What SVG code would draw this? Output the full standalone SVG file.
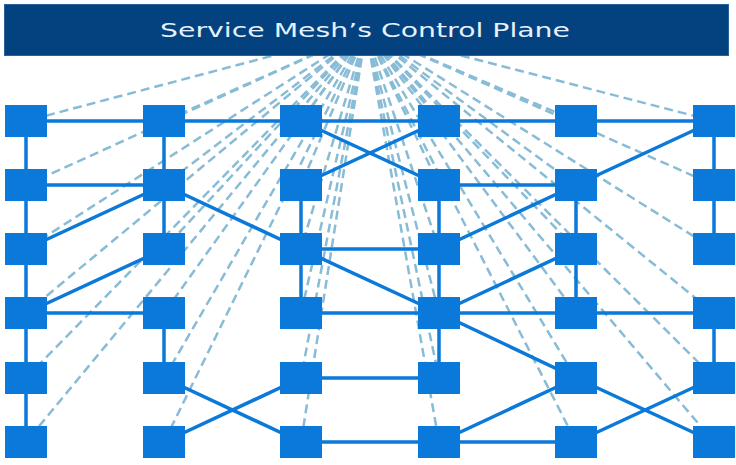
<svg xmlns="http://www.w3.org/2000/svg" width="736" height="465" viewBox="0 0 736 465">
<style>
.ctl{stroke:#88bcd6;stroke-width:2.5;stroke-dasharray:9 5;fill:none}
.dat{stroke:#0a79d9;stroke-width:3.5;fill:none}
.n{fill:#0a79d9}
.hdr{fill:#03427f;stroke:#2a639a;stroke-width:1}
.ttl{font-family:"DejaVu Sans","Open Sans",sans-serif;font-size:20px;fill:#e6f1fb;text-anchor:middle}
</style>
<rect width="736" height="465" fill="#ffffff"/>
<g id="connectors">
<g id="control-links">
<line class="ctl" x1="366" y1="31" x2="26" y2="121"/>
<line class="ctl" x1="366" y1="31" x2="26" y2="185"/>
<line class="ctl" x1="366" y1="31" x2="26" y2="249"/>
<line class="ctl" x1="366" y1="31" x2="26" y2="313"/>
<line class="ctl" x1="366" y1="31" x2="26" y2="378"/>
<line class="ctl" x1="366" y1="31" x2="26" y2="442"/>
<line class="ctl" x1="366" y1="31" x2="164" y2="121"/>
<line class="ctl" x1="366" y1="31" x2="164" y2="185"/>
<line class="ctl" x1="366" y1="31" x2="164" y2="249"/>
<line class="ctl" x1="366" y1="31" x2="164" y2="313"/>
<line class="ctl" x1="366" y1="31" x2="164" y2="378"/>
<line class="ctl" x1="366" y1="31" x2="164" y2="442"/>
<line class="ctl" x1="366" y1="31" x2="301" y2="121"/>
<line class="ctl" x1="366" y1="31" x2="301" y2="185"/>
<line class="ctl" x1="366" y1="31" x2="301" y2="249"/>
<line class="ctl" x1="366" y1="31" x2="301" y2="313"/>
<line class="ctl" x1="366" y1="31" x2="301" y2="378"/>
<line class="ctl" x1="366" y1="31" x2="301" y2="442"/>
<line class="ctl" x1="366" y1="31" x2="439" y2="121"/>
<line class="ctl" x1="366" y1="31" x2="439" y2="185"/>
<line class="ctl" x1="366" y1="31" x2="439" y2="249"/>
<line class="ctl" x1="366" y1="31" x2="439" y2="313"/>
<line class="ctl" x1="366" y1="31" x2="439" y2="378"/>
<line class="ctl" x1="366" y1="31" x2="439" y2="442"/>
<line class="ctl" x1="366" y1="31" x2="576" y2="121"/>
<line class="ctl" x1="366" y1="31" x2="576" y2="185"/>
<line class="ctl" x1="366" y1="31" x2="576" y2="249"/>
<line class="ctl" x1="366" y1="31" x2="576" y2="313"/>
<line class="ctl" x1="366" y1="31" x2="576" y2="378"/>
<line class="ctl" x1="366" y1="31" x2="576" y2="442"/>
<line class="ctl" x1="366" y1="31" x2="714" y2="121"/>
<line class="ctl" x1="366" y1="31" x2="714" y2="185"/>
<line class="ctl" x1="366" y1="31" x2="714" y2="249"/>
<line class="ctl" x1="366" y1="31" x2="714" y2="313"/>
<line class="ctl" x1="366" y1="31" x2="714" y2="378"/>
<line class="ctl" x1="366" y1="31" x2="714" y2="442"/>
</g>
<g id="data-links">
<line class="dat" x1="26" y1="121" x2="714" y2="121"/>
<line class="dat" x1="26" y1="121" x2="26" y2="442"/>
<line class="dat" x1="164" y1="121" x2="164" y2="249"/>
<line class="dat" x1="164" y1="313" x2="164" y2="378"/>
<line class="dat" x1="26" y1="185" x2="164" y2="185"/>
<line class="dat" x1="26" y1="249" x2="164" y2="185"/>
<line class="dat" x1="164" y1="185" x2="301" y2="249"/>
<line class="dat" x1="164" y1="249" x2="26" y2="313"/>
<line class="dat" x1="26" y1="313" x2="164" y2="313"/>
<line class="dat" x1="164" y1="378" x2="301" y2="442"/>
<line class="dat" x1="164" y1="442" x2="301" y2="378"/>
<line class="dat" x1="301" y1="121" x2="439" y2="185"/>
<line class="dat" x1="439" y1="121" x2="301" y2="185"/>
<line class="dat" x1="301" y1="185" x2="301" y2="313"/>
<line class="dat" x1="301" y1="249" x2="439" y2="249"/>
<line class="dat" x1="301" y1="249" x2="439" y2="313"/>
<line class="dat" x1="439" y1="185" x2="439" y2="378"/>
<line class="dat" x1="301" y1="313" x2="714" y2="313"/>
<line class="dat" x1="301" y1="378" x2="439" y2="378"/>
<line class="dat" x1="301" y1="442" x2="576" y2="442"/>
<line class="dat" x1="439" y1="185" x2="576" y2="185"/>
<line class="dat" x1="576" y1="185" x2="714" y2="121"/>
<line class="dat" x1="576" y1="185" x2="439" y2="249"/>
<line class="dat" x1="576" y1="185" x2="576" y2="313"/>
<line class="dat" x1="576" y1="249" x2="439" y2="313"/>
<line class="dat" x1="439" y1="313" x2="576" y2="378"/>
<line class="dat" x1="439" y1="442" x2="576" y2="378"/>
<line class="dat" x1="576" y1="378" x2="714" y2="442"/>
<line class="dat" x1="576" y1="442" x2="714" y2="378"/>
<line class="dat" x1="714" y1="121" x2="714" y2="249"/>
<line class="dat" x1="714" y1="313" x2="714" y2="378"/>
</g>
</g>
<g id="n-0-0"><rect class="n" x="5" y="105" width="42" height="32"/></g>
<g id="n-0-1"><rect class="n" x="5" y="169" width="42" height="32"/></g>
<g id="n-0-2"><rect class="n" x="5" y="233" width="42" height="32"/></g>
<g id="n-0-3"><rect class="n" x="5" y="297" width="42" height="32"/></g>
<g id="n-0-4"><rect class="n" x="5" y="362" width="42" height="32"/></g>
<g id="n-0-5"><rect class="n" x="5" y="426" width="42" height="32"/></g>
<g id="n-1-0"><rect class="n" x="143" y="105" width="42" height="32"/></g>
<g id="n-1-1"><rect class="n" x="143" y="169" width="42" height="32"/></g>
<g id="n-1-2"><rect class="n" x="143" y="233" width="42" height="32"/></g>
<g id="n-1-3"><rect class="n" x="143" y="297" width="42" height="32"/></g>
<g id="n-1-4"><rect class="n" x="143" y="362" width="42" height="32"/></g>
<g id="n-1-5"><rect class="n" x="143" y="426" width="42" height="32"/></g>
<g id="n-2-0"><rect class="n" x="280" y="105" width="42" height="32"/></g>
<g id="n-2-1"><rect class="n" x="280" y="169" width="42" height="32"/></g>
<g id="n-2-2"><rect class="n" x="280" y="233" width="42" height="32"/></g>
<g id="n-2-3"><rect class="n" x="280" y="297" width="42" height="32"/></g>
<g id="n-2-4"><rect class="n" x="280" y="362" width="42" height="32"/></g>
<g id="n-2-5"><rect class="n" x="280" y="426" width="42" height="32"/></g>
<g id="n-3-0"><rect class="n" x="418" y="105" width="42" height="32"/></g>
<g id="n-3-1"><rect class="n" x="418" y="169" width="42" height="32"/></g>
<g id="n-3-2"><rect class="n" x="418" y="233" width="42" height="32"/></g>
<g id="n-3-3"><rect class="n" x="418" y="297" width="42" height="32"/></g>
<g id="n-3-4"><rect class="n" x="418" y="362" width="42" height="32"/></g>
<g id="n-3-5"><rect class="n" x="418" y="426" width="42" height="32"/></g>
<g id="n-4-0"><rect class="n" x="555" y="105" width="42" height="32"/></g>
<g id="n-4-1"><rect class="n" x="555" y="169" width="42" height="32"/></g>
<g id="n-4-2"><rect class="n" x="555" y="233" width="42" height="32"/></g>
<g id="n-4-3"><rect class="n" x="555" y="297" width="42" height="32"/></g>
<g id="n-4-4"><rect class="n" x="555" y="362" width="42" height="32"/></g>
<g id="n-4-5"><rect class="n" x="555" y="426" width="42" height="32"/></g>
<g id="n-5-0"><rect class="n" x="693" y="105" width="42" height="32"/></g>
<g id="n-5-1"><rect class="n" x="693" y="169" width="42" height="32"/></g>
<g id="n-5-2"><rect class="n" x="693" y="233" width="42" height="32"/></g>
<g id="n-5-3"><rect class="n" x="693" y="297" width="42" height="32"/></g>
<g id="n-5-4"><rect class="n" x="693" y="362" width="42" height="32"/></g>
<g id="n-5-5"><rect class="n" x="693" y="426" width="42" height="32"/></g>
<g id="control-plane">
<rect class="hdr" x="4.5" y="4.5" width="724" height="51"/>
<text class="ttl" x="365" y="37" textLength="410" lengthAdjust="spacingAndGlyphs">Service Mesh’s Control Plane</text>
</g>
</svg>
